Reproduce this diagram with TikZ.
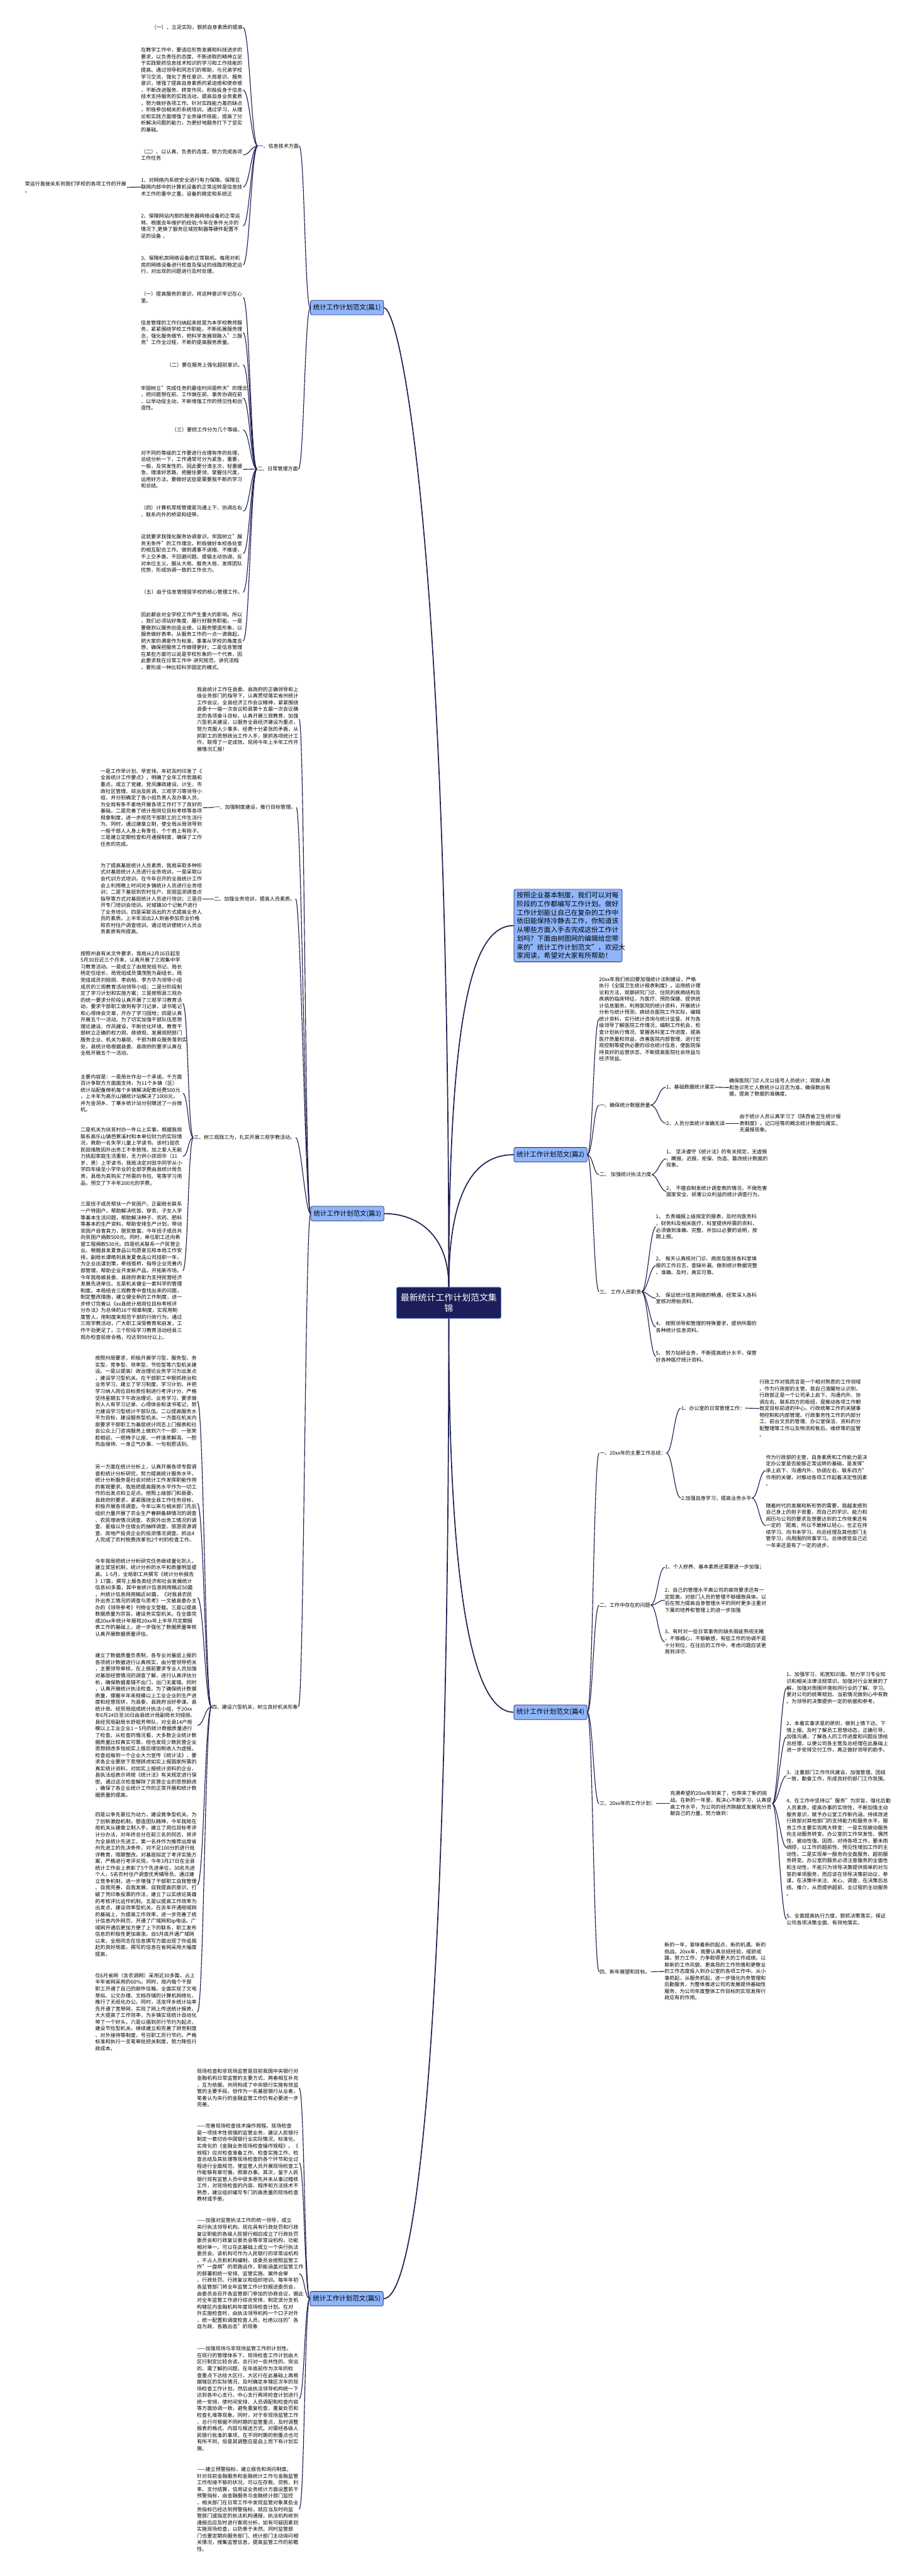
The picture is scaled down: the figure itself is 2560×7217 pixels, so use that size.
\documentclass[tikz,border=0pt]{standalone}
\usepackage{fontspec}
\setmainfont{Noto Sans CJK SC}
\definecolor{linecol}{RGB}{30,32,82}
\definecolor{topicfill}{RGB}{143,181,250}
\definecolor{rootfill}{RGB}{28,30,92}
\definecolor{rootedge}{RGB}{96,126,214}
\tikzset{
  root/.style={draw=rootedge, fill=rootfill, line width=1.5pt, rounded corners=4pt, text=white, align=center, text width=286pt, minimum height=87pt, font=\fontsize{24.5}{31}\selectfont},
  topic/.style={draw=linecol, fill=topicfill, line width=1.2pt, rounded corners=5pt, minimum width=205pt, minimum height=41pt, inner sep=3pt, font=\fontsize{18.5}{22}\selectfont},
  introbox/.style={draw=linecol, fill=topicfill, line width=1.2pt, rounded corners=5pt, text width=287pt, inner sep=8pt, align=left, font=\fontsize{19}{24.2}\selectfont},
  lbl/.style={inner sep=1pt, font=\fontsize{14.2}{18.6}\selectfont},
  txt/.style={inner sep=0pt, text width=286pt, align=left, font=\fontsize{14.2}{18.6}\selectfont},
  trunk/.style={draw=linecol, line width=3pt},
  twig/.style={draw=linecol, line width=2pt}
}
\begin{document}
\begin{tikzpicture}[x=1pt, y=-1pt]
\fill[white] (0,0) rectangle (2560,7217);
\useasboundingbox (0,0) rectangle (2560,7217);

% centre and main topics
\node[root] (R) at (1257,3650) {最新统计工作计划范文集\\锦};
\node[topic] (P1) at (972,862) {统计工作计划范文(篇1)};
\node[topic] (P2) at (1542,3235) {统计工作计划范文(篇2)};
\node[topic] (P3) at (973,3400) {统计工作计划范文(篇3)};
\node[topic] (P4) at (1542,4797) {统计工作计划范文(篇4)};
\node[topic] (P5) at (971,6440) {统计工作计划范文(篇5)};
\node[introbox, anchor=west] (IN) at (1439,2593) {按照企业基本制度，我们可以对每\\阶段的工作都编写工作计划。做好\\工作计划能让自己在复杂的工作中\\依旧能保持冷静去工作，你知道该\\从哪些方面入手去完成这份工作计\\划吗？下面由树图网的编辑给您带\\来的"统计工作计划范文"，欢迎大\\家阅读，希望对大家有所帮助！};

\draw[trunk] (R.north) .. controls (1257,1500) and (1120,862) .. (P1.east);
\draw[trunk] (R.north) .. controls (1257,3450) and (1160,3400) .. (P3.east);
\draw[trunk] (R.north) .. controls (1257,3300) and (1350,3235) .. (P2.west);
\draw[trunk] (R.north) .. controls (1257,2800) and (1330,2593) .. (IN.west);
\draw[trunk] (R.south) .. controls (1257,4500) and (1330,4797) .. (P4.west);
\draw[trunk] (R.south) .. controls (1257,5500) and (1180,6440) .. (P5.east);

% 篇1
\node[lbl, anchor=east] (P1a) at (838,409) {一、信息技术方面};
\node[lbl, anchor=east] (P1b) at (836,1314) {二、日常管理方面};
\node[lbl, anchor=east] (P1a1) at (681,77) {（一）、立足实际，狠抓自身素质的提高};
\node[txt, anchor=east] (P1a2) at (681,252) {在教学工作中，要适应形势发展和科技进步的\\要求，以负责任的态度、不断进取的精神立足\\于实践狠抓信息技术知识的学习和工作技能的\\提高。通过领导和同志们的帮助，与兄弟学校\\学习交流，强化了责任意识、大局意识、服务\\意识，增强了提高自身素质的紧迫感和使命感\\，不断改进服务、转变作风，积极投身于信息\\技术支持服务的实践活动，提高自身业务素质\\，努力做好各项工作。针对实践能力差的缺点\\，积极参加相关的系统培训。通过学习，从理\\论和实践方面增强了业务操作技能，提高了分\\析解决问题的能力，为更好地服务打下了坚实\\的基础。};
\node[txt, anchor=east] (P1a3) at (681,434) {（二）、以认真、负责的态度，努力完成各项\\工作任务};
\node[txt, anchor=east] (P1a4) at (681,524) {1、对网络内系统安全进行有力保障。保障互\\联网内部中的计算机设备的正常运转是信息技\\术工作的重中之重。设备的稳定和系统正};
\node[txt, anchor=east] (P1a4x) at (356,525) {常运行直接关系到我们学校的各项工作的开展\\。};
\node[txt, anchor=east] (P1a5) at (681,633) {2、保障网站内部的服务器网络设备的正常运\\转。根据去年维护的经验;今年在条件允许的\\情况下,更换了服务区域控制器等硬件配置不\\足的设备 。};
\node[txt, anchor=east] (P1a6) at (681,742) {3、保障机房网络设备的正常联机。每周对机\\房的网络设备进行检查及保证的线路的稳定运\\行，对出现的问题进行及时处理。};
\node[txt, anchor=east] (P1b1) at (681,833) {（一）提高服务的意识，将这种意识牢记在心\\里。};
\node[txt, anchor=east] (P1b2) at (681,932) {信息管理的工作归纳起来就是为本学校教师服\\务，紧紧围绕学校工作职能，不断拓展服务理\\念，强化服务细节，把科学发展观融入"三服\\务"工作全过程，不断的提高服务质量。};
\node[lbl, anchor=east] (P1b3) at (681,1022) {（二）要在服务上强化超前意识。};
\node[txt, anchor=east] (P1b4) at (681,1115) {牢固树立"完成任务的最佳时间是昨天"的理念\\，把问题想在前、工作做在前、事务协调在前\\，以早动促主动，不断增强工作的预见性和创\\造性。};
\node[lbl, anchor=east] (P1b5) at (681,1205) {（三）要把工作分为几个等级。};
\node[txt, anchor=east] (P1b6) at (681,1315) {对不同的等级的工作要进行合理有序的处理，\\总结分析一下，工作通常可分为紧急，重要，\\一般，及突发性的，因此要分清主次，轻重缓\\急，理清好思路，把握住要领，掌握住尺度，\\运用好方法，要做好这些是需要我不断的学习\\和总结。};
\node[txt, anchor=east] (P1b7) at (681,1432) {（四）计算机常规管理是沟通上下、协调左右\\、联系内外的桥梁和纽带。};
\node[txt, anchor=east] (P1b8) at (681,1551) {这就要求我强化服务协调意识。牢固树立"服\\务无条件"的工作理念，积极做好本校各处室\\的相互配合工作。做到遇事不退缩、不推诿，\\不上交矛盾，不回避问题。提倡主动协调，反\\对本位主义。服从大局、服务大局，发挥团队\\优势，形成协调一致的工作合力。};
\node[lbl, anchor=east] (P1b9) at (681,1659) {（五）由于信息管理是学校的核心管理工作。};
\node[txt, anchor=east] (P1b10) at (681,1796) {因此都会对全学校工作产生重大的影响。所以\\，我们必须站好角度、履行好服务职能。一是\\要做到以服务创造业绩，以服务塑造形象，以\\服务做好表率。从服务工作的一点一滴做起，\\把大家的满意作为标准，事事从学校的角度去\\想，确保把服务工作做得更好；二是信息管理\\在某些方面可以说是学校形象的一个代表，因\\此要求我在日常工作中 讲究规范，讲究流程\\，要形成一种比较科学固定的模式。};

\draw[twig] (P1.west) .. controls +(-15,0) and +(15,0) .. (P1a.east);
\draw[twig] (P1.west) .. controls +(-15,0) and +(15,0) .. (P1b.east);
\draw[twig] (P1a.west) .. controls +(-18,0) and +(18,0) .. (P1a1.east);
\draw[twig] (P1a.west) .. controls +(-18,0) and +(18,0) .. (P1a2.east);
\draw[twig] (P1a.west) .. controls +(-18,0) and +(18,0) .. (P1a3.east);
\draw[twig] (P1a.west) .. controls +(-18,0) and +(18,0) .. (P1a4.east);
\draw[twig] (P1a.west) .. controls +(-18,0) and +(18,0) .. (P1a5.east);
\draw[twig] (P1a.west) .. controls +(-18,0) and +(18,0) .. (P1a6.east);
\draw[twig] (P1a4.west) -- (P1a4x.east);
\draw[twig] (P1b.west) .. controls +(-18,0) and +(18,0) .. (P1b1.east);
\draw[twig] (P1b.west) .. controls +(-18,0) and +(18,0) .. (P1b2.east);
\draw[twig] (P1b.west) .. controls +(-18,0) and +(18,0) .. (P1b3.east);
\draw[twig] (P1b.west) .. controls +(-18,0) and +(18,0) .. (P1b4.east);
\draw[twig] (P1b.west) .. controls +(-18,0) and +(18,0) .. (P1b5.east);
\draw[twig] (P1b.west) .. controls +(-18,0) and +(18,0) .. (P1b6.east);
\draw[twig] (P1b.west) .. controls +(-18,0) and +(18,0) .. (P1b7.east);
\draw[twig] (P1b.west) .. controls +(-18,0) and +(18,0) .. (P1b8.east);
\draw[twig] (P1b.west) .. controls +(-18,0) and +(18,0) .. (P1b9.east);
\draw[twig] (P1b.west) .. controls +(-18,0) and +(18,0) .. (P1b10.east);

% 篇2
\node[txt, anchor=west] (P2a) at (1678,2855) {20xx年我们依旧要加强统计法制建设，严格\\执行《全国卫生统计报表制度》。运用统计理\\论和方法，观察研究门诊、住院的疾病结构及\\疾病的临床特征，为医疗、预防保健、提供统\\计信息服务。利用医院的统计资料，开展统计\\分析与统计预测，病结合医院工作实际，编辑\\统计资料，实行统计咨询与统计监督。并为各\\级领导了解医院工作情况，编制工作机会，检\\查计划执行情况、掌握各科室工作进度，提高\\医疗质量和效益，改善医院内部管理，进行宏\\观控制等提供必要的综合统计信息，使医院保\\持良好的运营状态，不断提高医院社会效益与\\经济效益。};
\node[lbl, anchor=west] (P2b) at (1678,3096) {一、确保统计数据质量};
\node[lbl, anchor=west] (P2b1) at (1865,3046) {1、基础数据统计属实};
\node[txt, anchor=west] (P2b1x) at (2042,3047) {确保医院门诊人次以挂号人员统计；观察人数\\和急诊死亡人数统计以日志为准，确保数出有\\据，提高了数据的准确度。};
\node[lbl, anchor=west] (P2b2) at (1865,3147) {2、人员分类统计准确无误};
\node[txt, anchor=west] (P2b2x) at (2071,3147) {由于统计人员认真学习了《陕西省卫生统计报\\表制度》，记口径等的概念统计数据均属实，\\无漏报现象。};
\node[lbl, anchor=west] (P2c) at (1678,3291) {二、 加强统计执法力度};
\node[txt, anchor=west] (P2c1) at (1866,3246) {1、 坚决遵守《统计法》的有关规定，无虚报\\、瞒报、迟报、拒保、伪造、篡改统计数据的\\现象。};
\node[txt, anchor=west] (P2c2) at (1866,3338) {2、 不擅自制发统计调查表的情况，不做危害\\国家安全、损害公众利益的统计调查行为。};
\node[lbl, anchor=west] (P2d) at (1678,3619) {三、 工作人员职责};
\node[txt, anchor=west] (P2d1) at (1837,3437) {1、 负责编报上级规定的报表，及时向医务科\\，财务科及相关医疗、科室提供所需的资料，\\必须做到准确、完整、并加以必要的说明，按\\期上报。};
\node[txt, anchor=west] (P2d2) at (1837,3546) {2、 每天认真核对门诊、病房及医技各科室填\\报的工作日志，查缺补漏，做到统计数据完整\\、准确、及时，真实可靠。};
\node[txt, anchor=west] (P2d3) at (1837,3637) {3、 保证统计信息网络的畅通，经常深入各科\\室核对原始资料。};
\node[txt, anchor=west] (P2d4) at (1837,3718) {4、 按照领导和管理的特殊要求，提供所需的\\各种统计信息资料。};
\node[txt, anchor=west] (P2d5) at (1837,3800) {5、 努力钻研业务，不断提高统计水平，保管\\好各种医疗统计资料。};

\draw[twig] (P2.east) .. controls +(15,0) and +(-15,0) .. (P2a.west);
\draw[twig] (P2.east) .. controls +(15,0) and +(-15,0) .. (P2b.west);
\draw[twig] (P2.east) .. controls +(15,0) and +(-15,0) .. (P2c.west);
\draw[twig] (P2.east) .. controls +(15,0) and +(-15,0) .. (P2d.west);
\draw[twig] (P2b.east) .. controls +(20,0) and +(-20,0) .. (P2b1.west);
\draw[twig] (P2b.east) .. controls +(20,0) and +(-20,0) .. (P2b2.west);
\draw[twig] (P2b1.east) -- (P2b1x.west);
\draw[twig] (P2b2.east) -- (P2b2x.west);
\draw[twig] (P2c.east) .. controls +(15,0) and +(-15,0) .. (P2c1.west);
\draw[twig] (P2c.east) .. controls +(15,0) and +(-15,0) .. (P2c2.west);
\draw[twig] (P2d.east) .. controls +(16,0) and +(-16,0) .. (P2d1.west);
\draw[twig] (P2d.east) .. controls +(16,0) and +(-16,0) .. (P2d2.west);
\draw[twig] (P2d.east) .. controls +(16,0) and +(-16,0) .. (P2d3.west);
\draw[twig] (P2d.east) .. controls +(16,0) and +(-16,0) .. (P2d4.west);
\draw[twig] (P2d.east) .. controls +(16,0) and +(-16,0) .. (P2d5.west);

% 篇3
\node[txt, anchor=east] (P3a) at (838,2015) {我县统计工作在县委、县政府的正确领导和上\\级业务部门的指导下，认真贯彻落实省州统计\\工作会议、全县经济工作会议精神，紧紧围绕\\县委十一届一次会议和县第十五届一次会议确\\定的各项奋斗目标，认真开展三观教育，加强\\六型机关建设，以服务全县经济建设为重点，\\努力克服人少事多、经费十分紧张的矛盾，从\\抓职工的思想政治工作入手，狠抓各项统计工\\作，取得了一定成效。现将今年上半年工作开\\展情况汇报！};
\node[lbl, anchor=east] (P3b) at (830,2262) {一、加强制度建设，推行目标管理。};
\node[txt, anchor=east] (P3bx) at (568,2263) {一是工作早计划、早安排。年初及时印发了《\\全县统计工作要点》，明确了全年工作思路和\\重点。成立了党建、党风廉政建设、计生、市\\政社区管理、综治及民调、三观学习等领导小\\组，并分别确定了各小组负责人及办事人员，\\为全局有条不紊地开展各项工作打下了良好的\\基础。二是完善了统计局岗位目标考核等各项\\规章制度，进一步规范干部职工的工作生活行\\为。同时，通过建章立制，使全局从局领导到\\一般干部人人身上有责任、个个肩上有担子。\\三是建立定期检查和月通报制度，确保了工作\\任务的完成。};
\node[lbl, anchor=east] (P3c) at (828,2518) {二、加强业务培训，提高人员素质。};
\node[txt, anchor=east] (P3cx) at (568,2518) {为了提高基层统计人员素质，我局采取多种形\\式对基层统计人员进行业务培训。一是采取以\\会代训方式培训。在今年召开的全县统计工作\\会上利用晚上时间对乡镇统计人员进行业务培\\训；二是下基层到农村住户、贫困监测调查点\\指导等方式对基层统计人员进行培训；三是召\\开专门培训会培训。对城镇30个记帐户进行\\了业务培训。四是采取派出的方式提高业务人\\员的素质。上半年派出2人到省参加农业价格\\和农村住户调查培训。通过培训使统计人员业\\务素质有所提高。};
\node[lbl, anchor=east] (P3d) at (828,3187) {三、树三观践三为，扎实开展三观学教活动。};
\node[txt, anchor=east] (P3d1) at (512,2811) {按照州县有关文件要求，我局从2月16日起至\\5月30日近三个月来，认真开展了三观集中学\\习教育活动。一是成立了由局党组书记、局长\\杨定任组长，局党组成员蒲茂胜为副组长，局\\党组成员刘娅丽、李启柏、李方华为领导小组\\成员的三观教育活动领导小组；二是分阶段制\\定了学习计划和实施方案；三是按照县三观办\\的统一要求分阶段认真开展了三观学习教育活\\动，要求干部职工做到有学习记录、读书笔记\\和心得体会文章，开办了学习园地；四是认真\\开展五个一活动。为了切实加强干部队伍思想\\理论建设、作风建设，不断优化环境，教育干\\部树立正确的权力观、政绩观、发展观把部门\\服务企业、机关为基层、干部为群众服务落到实\\处，县统计局根据县委、县政府的要求认真在\\全局开展五个一活动。};
\node[txt, anchor=east] (P3d2) at (512,3063) {主要内容是：一是局长作出一个承诺。千方面\\百计争取方方面面支持，为11个乡镇（区）\\统计站配备微机每个乡镇解决配套经费500元\\，上半年为高乐山镇统计站解决了1000元，\\并为金洞乡、丁寨乡统计站分别赠送了一台微\\机。};
\node[txt, anchor=east] (P3d3) at (512,3240) {二是机关为扶贫村办一件以上实事。根据我局\\联系高乐山镇芭蕉溪村和本单位财力的实际情\\况，救助一名失学儿童上学读书。该村1组农\\民田维胜因外出务工不幸致残，加之爱人无能\\力挑起家庭生活重担，无力供小孩田华（11\\岁，男）上学读书，我局决定对田华同学从小\\学四年级至小学毕业的全部学费由县统计局负\\责，县局为其购买了所需的书包、笔等学习用\\品，预交了下半年200元的学费。};
\node[txt, anchor=east] (P3d4) at (512,3560) {三是班子成员帮扶一户贫困户。正副局长联系\\一户特困户，帮助解决吃饭、穿衣、子女入学\\等基本生活问题，帮助解决种子、农药、肥料\\等基本的生产资料，帮助安排生产计划，带动\\贫困户自食其力，脱贫致富。今年班子成员共\\向贫困户捐款500元。同时，单位职工还向希\\望工程捐款530元。四是机关联系一户民营企\\业。根据县发夏食品公司愿意见和本局工作安\\排，副局长谭皓到县发夏食品公司挂职一年，\\为企业出谋划策，牵线搭桥，指导企业完善内\\部管理，帮助企业开发新产品，开拓新市场。\\今年我局被县委、县政府表彰为支持民营经济\\发展先进单位。五是机关健全一套科学的管理\\制度。本局结合三观教育中查找出来的问题，\\制定整改措施，建立健全新的工作制度，进一\\步修订完善以《xx县统计局岗位目标考核评\\分办法》为总体的16个规章制度，实现用制\\度管人，用制度来规范干部的行政行为。通过\\三观学教活动，广大职工深受教育和启发，工\\作干劲更足了。三个阶段学习教育活动经县三\\观办检查验收合格，均达到98分以上。};
\node[lbl, anchor=east] (P3e) at (836,4782) {四、建设六型机关，树立良好机关形象};
\node[txt, anchor=east] (P3e1) at (553,3926) {按照州局要求，积极开展学习型、服务型、务\\实型、竞争型、效率型、节俭型等六型机关建\\设。一是以提高）政治理论业务学习为出发点\\，建设学习型机关。在干部职工中狠抓政治和\\业务学习，建立了学习制度、学习计划，并把\\学习纳入岗位目标责任制进行考评计分，严格\\坚持星期五下午政治理论、业务学习，要求做\\到人人有学习记录、心得体会和读书笔记，努\\力建设学习型统计干部队伍。二以提高服务水\\平为目标，建设服务型机关。一方面在机关内\\部要求干部职工为基层统计同志上门报表和社\\会公众上门咨询服务上做到六个一即：一张笑\\脸相迎、一把椅子让座、一杯清茶解渴、一腔\\热血接待、一身正气办事、一句祝愿话别。};
\node[txt, anchor=east] (P3e2) at (553,4212) {另一方面在统计分析上，认真开展各项专题调\\查和统计分析研究，努力提高统计服务水平。\\统计分析服务是社会对统计工作发挥职能作用\\的客观要求。我局把提高服务水平作为一切工\\作的出发点和立足点。按照上级部门和县委、\\县政府的要求，紧紧围绕全县工作任务目标，\\积极开展各项调查。今年以来与相关部门先后\\组织力量开展了农业生产春耕备耕情况的调查\\、农民增收情况调查、农民外出务工情况的调\\查、星级以外住宿业的抽样调查、旅游资源调\\查、房地产投资企业的投资情况调查。抓出4\\人完成了农村税费改革包2个村的检查工作。};
\node[txt, anchor=east] (P3e3) at (553,4476) {今年我局把统计分析研究任务继续量化到人，\\建立奖惩机制，统计分析的水平和质量明显提\\高。1-5月，全局职工共撰写《统计分析报告\\》17篇，撰写上报各类经济和社会发展统计\\信息80多篇，其中省统计信息网用稿近50篇\\，州统计信息网用稿近80篇。《对我县农民\\外出务工情况的调查与思考》一文被县委办主\\办的《领导参考》刊物全文登载。三是以提高\\数据质量为宗旨，建设务实型机关。在全面完\\成20xx年统计年报和20xx年上半年月定期报\\表工作的基础上，进一步强化了数据质量审核\\认真开展数据质量评估。};
\node[txt, anchor=east] (P3e4) at (553,4834) {建立了数据质量负责制，各专业对基层上报的\\各项统计数据进行认真核实，由分管领导把关\\，主要领导审核，在上报前要求专业人员加强\\对基层经营情况的调查了解，进行认真评估分\\析，确保数据差错不出门，出门无差错。同时\\，认真开展统计执法检查。为了确保统计数据\\质量，撑握半年来规模以上工业企业的生产进\\度和经营现状，为县委、县政府当好参谋。县\\统计局、经贸局组成统计执法小组，于20xx\\年6月24日至30日由县统计局副局长刘娅丽、\\县经贸局副局长舒祖芳带队，对全县14户规\\模以上工业企业1－5月的统计数据质量进行\\了检查。从检查的情况看，大多数企业统计数\\据质量比较真实可靠，但也发现少数民营企业\\思想顾虑多怕如实上报后增加税收人为虚报。\\检查组每到一个企业大力宣传《统计法》，要\\求各企业要放下思想顾虑如实上报国家所需的\\真实统计资料，对如实上报统计资料的企业，\\县执法组表示将按《统计法》有关规定进行保\\密。通过这次检查解除了民营企业的思想顾虑\\，确保了各企业统计工作的正常开展和统计数\\据质量的提高。};
\node[txt, anchor=east] (P3e5) at (553,5280) {四是以争先晋位为动力，建设竟争型机关。为\\了创新激励机制，塑造团队精神，今年我局在\\局机关从建章立制入手，建立了岗位目标考评\\计分办法，对年终总分在前三名的同志，将评\\为全县统计先进工，第一名并作为推荐出席省\\州先进工的先决条件，对不足100分的进行批\\评教育，限期整改。对基层拟定了考评实施方\\案，严格进行考评兑现。今年3月27日在全县\\统计工作会上表彰了5个先进单位，30名先进\\个人，5名农村住户调查优秀辅导员。通过建\\立竞争机制，进一步增强了干部职工自我管理\\、自我完善、自我发展、自我提高的意识，打\\破了凭印象投票的作法，建立了以实绩论英雄\\的考核评比运作机制。五是以提高工作效率为\\出发点，建设效率型机关。在去年开通局域网\\的基础上，为提高工作效率，进一步完善了统\\计信息内外网页，开通了广域网和ip电话。广\\域网开通后更加方便了上下的联系，职工发布\\信息的积极性更加高涨。自5月底开通广域网\\以来，全局同志在信息撰写方面出现了你追我\\赶的良好局面，撰写的信息在省网采用大幅度\\提高，};
\node[txt, anchor=east] (P3e6) at (553,5637) {仅6月省网（含农调网）采用近30多篇，占上\\半年省网采用的60\%。同时，局内每个干部\\职工开通了自己的邮件信箱，全面实现了文电\\草拟、公文办理、文档存储的计算机网络化，\\推行了无纸化办公。同时，活龙坪乡统计站率\\先开通了宽带网，实现了网上传送统计报表，\\大大提高了工作效率，为乡镇实现统计自动化\\带了一个好头。六是以倡到厉行节约为起点，\\建设节俭型机关。继续建立和完善了财务制度\\、对外接待等制度，号召职工厉行节约，严格\\标准和执行一支笔审批把关制度，努力降低行\\政成本。};

\draw[twig] (P3.west) .. controls +(-15,0) and +(15,0) .. (P3a.east);
\draw[twig] (P3.west) .. controls +(-15,0) and +(15,0) .. (P3b.east);
\draw[twig] (P3.west) .. controls +(-15,0) and +(15,0) .. (P3c.east);
\draw[twig] (P3.west) .. controls +(-15,0) and +(15,0) .. (P3d.east);
\draw[twig] (P3.west) .. controls +(-15,0) and +(15,0) .. (P3e.east);
\draw[twig] (P3b.west) -- (P3bx.east);
\draw[twig] (P3c.west) -- (P3cx.east);
\draw[twig] (P3d.west) .. controls +(-15,0) and +(15,0) .. (P3d1.east);
\draw[twig] (P3d.west) .. controls +(-15,0) and +(15,0) .. (P3d2.east);
\draw[twig] (P3d.west) .. controls +(-15,0) and +(15,0) .. (P3d3.east);
\draw[twig] (P3d.west) .. controls +(-15,0) and +(15,0) .. (P3d4.east);
\draw[twig] (P3e.west) .. controls +(-18,0) and +(18,0) .. (P3e1.east);
\draw[twig] (P3e.west) .. controls +(-18,0) and +(18,0) .. (P3e2.east);
\draw[twig] (P3e.west) .. controls +(-18,0) and +(18,0) .. (P3e3.east);
\draw[twig] (P3e.west) .. controls +(-18,0) and +(18,0) .. (P3e4.east);
\draw[twig] (P3e.west) .. controls +(-18,0) and +(18,0) .. (P3e5.east);
\draw[twig] (P3e.west) .. controls +(-18,0) and +(18,0) .. (P3e6.east);

% 篇4
\node[lbl, anchor=west] (P4a) at (1678,4071) {一、20xx年的主要工作总结：};
\node[lbl, anchor=west] (P4a1) at (1907,3945) {1、办公室的日常管理工作：};
\node[txt, anchor=west] (P4a1x) at (2127,3946) {行政工作对我而言是一个相对熟悉的工作领域\\。作为行政部的主管，我自己清醒地认识到，\\行政部正是一个公司承上启下、沟通内外、协\\调左右、联系四方的枢纽，是推动各项工作朝\\既定目标前进的中心。行政统筹工作的关键事\\物控制和内部管理。行政事务性工作的内部分\\工、前台文员的管理、办公室保洁、资料的分\\配整理等工作以及物流和售后、维修等的监管\\。};
\node[lbl, anchor=west] (P4a2) at (1907,4197) {2.加强自身学习，提高业务水平};
\node[txt, anchor=west] (P4a2x) at (2145,4120) {作为行政部的主管，自身素质和工作能力是决\\定办公室是否能够正常运转的基础，是发挥"\\承上启下、沟通内外、协调左右、联系四方"\\作用的关键，对推动各项工作起着决定性因素\\。};
\node[txt, anchor=west] (P4a2y) at (2145,4274) {随着时代的发展和新形势的需要，我越发感到\\自己身上的担子很重，而自己的学识、能力和\\阅历与公司的要求及想要达到的工作效果还有\\一定的`距离，所以不敢掉以轻心，也正在持\\续学习。向书本学习、向总经理及其他部门主\\管学习，向周围的同事学习。总体感觉自己近\\一年来还是有了一定的进步。};
\node[lbl, anchor=west] (P4b) at (1678,4497) {二、工作中存在的问题};
\node[lbl, anchor=west] (P4b1) at (1862,4391) {1、个人修养、基本素质还需要进一步加强；};
\node[txt, anchor=west] (P4b2) at (1862,4483) {2、自己的管理水平离公司的高效要求还有一\\定距离。对部门人员的管理不够细致具体。以\\后在努力提高自身管理水平的同时更多注重对\\下属的培养和管理上的进一步加强};
\node[txt, anchor=west] (P4b3) at (1862,4600) {3、有时对一些日常事务的缺失瑕疵熟视无睹\\，不够细心，不够敏感，有些工作的协调不是\\十分到位，在往后的工作中，考虑问题应该更\\周到详尽.};
\node[lbl, anchor=west] (P4c) at (1678,5053) {三、20xx年的工作计划：};
\node[txt, anchor=west] (P4cx) at (1877,5053) {充满希望的20xx年到来了，也带来了新的挑\\战。在新的一年里，我决心不断学习，认真提\\高工作水平，为公司的经济跨越式发展充分贡\\献自己的力量，努力做到：};
\node[txt, anchor=west] (P4c1) at (2203,4729) {1、加强学习，拓宽知识面。努力学习专业知\\识和相关法律法规常识。加强对行业发展的了\\解，加强对周围环境和同行业的了解、学习。\\要对公司的统筹规划、当前情况做到心中有数\\。为领导的决策提供一定的依据和参考。};
\node[txt, anchor=west] (P4c2) at (2203,4866) {2、本着实事求是的原则，做到上情下达、下\\情上报。及时了解员工思想动态，正确引导，\\加强沟通，了解各人的工作进度和问题反馈给\\总经理，以便公司各主管及总经理在此基础上\\进一步安排交付工作，真正做好领导的助手。};
\node[txt, anchor=west] (P4c3) at (2203,4975) {3、注重部门工作作风建设，加强管理，团结\\一致，勤奋工作，形成良好的部门工作氛围。};
\node[txt, anchor=west] (P4c4) at (2203,5176) {4、在工作中坚持以"服务"为宗旨，强化后勤\\人员素质，提高办事的实效性，不断加强主动\\服务意识，赋予办公室工作新内涵，持续改进\\行政部对其他部门的支持能力和服务水平。服\\务工作主要实现两大转变：一是实现被动服务\\向主动服务转变。办公室的工作突发性、偶然\\性、被动性强。因而，对待各项工作，要未雨\\绸缪，以工作的超前性、预见性增加工作的主\\动性。二是实现单一服务向全面服务、超前服\\务转变。办公室的服务必须注意服务的全面性\\和主动性，不能只为领导决策提供简单的对与\\答的单项服务，而应该在领导决策前动议、参\\谋，在决策中关注、关心、调查，在决策后总\\结、推介，从而提供超前、全过程的主动服务\\。};
\node[txt, anchor=west] (P4c5) at (2203,5377) {5、全面提高执行力度，狠抓决策落实，保证\\公司各项决策全面、有效地落实。};
\node[lbl, anchor=west] (P4d) at (1678,5524) {四、新年展望和目标。};
\node[txt, anchor=west] (P4dx) at (1861,5523) {新的一年，意味着新的起点、新的机遇、新的\\挑战。20xx年，我要认真总结经验，戒骄戒\\躁，努力工作，力争取得更大的工作成绩。以\\崭新的工作风貌、更高昂的工作热情和更敬业\\的工作态度投入到办公室的各项工作中。从小\\事抓起，从服务抓起，进一步强化内务管理和\\后勤服务，为整体推进公司的发展提供基础性\\服务，为公司年度整体工作目标的实现发挥行\\政应有的作用。};

\draw[twig] (P4.east) .. controls +(15,0) and +(-15,0) .. (P4a.west);
\draw[twig] (P4.east) .. controls +(15,0) and +(-15,0) .. (P4b.west);
\draw[twig] (P4.east) .. controls +(15,0) and +(-15,0) .. (P4c.west);
\draw[twig] (P4.east) .. controls +(15,0) and +(-15,0) .. (P4d.west);
\draw[twig] (P4a.east) .. controls +(18,0) and +(-18,0) .. (P4a1.west);
\draw[twig] (P4a.east) .. controls +(18,0) and +(-18,0) .. (P4a2.west);
\draw[twig] (P4a1.east) -- (P4a1x.west);
\draw[twig] (P4a2.east) .. controls +(18,0) and +(-18,0) .. (P4a2x.west);
\draw[twig] (P4a2.east) .. controls +(18,0) and +(-18,0) .. (P4a2y.west);
\draw[twig] (P4b.east) .. controls +(18,0) and +(-18,0) .. (P4b1.west);
\draw[twig] (P4b.east) .. controls +(18,0) and +(-18,0) .. (P4b2.west);
\draw[twig] (P4b.east) .. controls +(18,0) and +(-18,0) .. (P4b3.west);
\draw[twig] (P4c.east) -- (P4cx.west);
\draw[twig] (P4cx.east) .. controls +(15,0) and +(-15,0) .. (P4c1.west);
\draw[twig] (P4cx.east) .. controls +(15,0) and +(-15,0) .. (P4c2.west);
\draw[twig] (P4cx.east) .. controls +(15,0) and +(-15,0) .. (P4c3.west);
\draw[twig] (P4cx.east) .. controls +(15,0) and +(-15,0) .. (P4c4.west);
\draw[twig] (P4cx.east) .. controls +(15,0) and +(-15,0) .. (P4c5.west);
\draw[twig] (P4d.east) -- (P4dx.west);

% 篇5
\node[txt, anchor=east] (P5a) at (838,5850) {现场检查和非现场监管是目前我国中央银行对\\金融机构日常监管的主要方式，两者相互补充\\，互为依据，共同构成了中央银行实施有效监\\管的主要手段。但作为一名基层银行从业者，\\笔者认为央行的金融监管工作仍有必要进一步\\完善。};
\node[txt, anchor=east] (P5b) at (838,6059) {——完善现场检查技术操作规程。现场检查\\是一项技术性很强的监管业务，建议人民银行\\制定一套切合中国银行业实际情况，标准化、\\实用化的《金融业务现场检查操作规程》。《\\规程》应对检查准备工作、检查实施工作、检\\查总结及其处理等现场检查的各个环节和全过\\程进行全面规范，使监管人员开展现场检查工\\作能够有章可循，照章办事。其次，鉴于人民\\银行现有监管人员中很多原先并未从事过稽核\\工作，对现场检查的内容、程序和方法技术不\\熟悉，建议组织编写专门的高质量的现场检查\\教材或手册。};
\node[txt, anchor=east] (P5c) at (838,6370) {——加强对监管执法工作的统一领导，成立\\央行执法领导机构。现在具有行政处罚和行政\\复议职能的各级人民银行相应成立了行政处罚\\委员会和行政复议委员会等非常设机构，功能\\相对单一。可以在此基础上成立一个央行执法\\委员会。该机构可作为人民银行的非常设机构\\，不占人员和机构编制。该委员会按照监管工\\作"一盘棋"的思路运作，职能涵盖对监管工作\\的部署和统一安排、监管实施、案件会审\\、行政处罚、行政复议和组织培训。每年年初\\各监管部门将全年监管工作计划报送委员会，\\由委员会召开各监管部门参加的协商会议，据此\\对全年监管工作进行综合安排，制定该分支机\\构辖区内金融机构年度现场检查计划。在对\\外实施检查时，由执法领导机构一个口子对外\\，统一配置和调度检查人员，杜绝以往的"各\\自为政、各路出击"的现象};
\node[txt, anchor=east] (P5d) at (838,6720) {——加强现场与非现场监管工作的计划性。\\在现行的管理体系下，现场检查工作计划由大\\区行制定比较合适，总行对一些共性的、突出\\的、需了解的问题，在年底前作为次年的检\\查重点下达给大区行，大区行在此基础上再根\\据辖区的实际情况，及时确定本辖区次年的现\\场检查工作计划，然后由执法领导机构统一下\\达到各中心支行。中心支行再将检查计划进行\\统一安排，使时间安排、人员调配和检查内容\\等方面协调一致，避免重复检查、重复处罚和\\检查扎堆等现象。同时，对于非现场监管工作\\，总行可根据不同时期的监管重点，及时调整\\报表的格式、内容与报送方式。对需经各级人\\民银行批准的事项，在不同时期的侧重点也可\\有所不同，但是其调整应是自上而下有计划实\\施。};
\node[txt, anchor=east] (P5e) at (838,7030) {——建立预警指标，建立报告和询问制度。\\针对目前金融服务和金融统计工作与金融监管\\工作衔接不够的状况，可以在存款、贷款、利\\率、支付结算、信用证业务统计方面设置若干\\预警指标，由金融服务与金融统计部门监控\\，相关部门在日常工作中发现监管对象某些业\\务指标已经达到预警指标，就应当及时向监\\管部门或指定的执法机构通报，执法机构收到\\通报后应及时进行客观分析，如有可疑因素则\\实施现场检查，以防患于未然。同时监管部\\门也要定期向服务部门、统计部门主动询问相\\关情况，搜集监管信息，提高监管工作的前瞻\\性。};

\draw[twig] (P5.west) .. controls +(-15,0) and +(15,0) .. (P5a.east);
\draw[twig] (P5.west) .. controls +(-15,0) and +(15,0) .. (P5b.east);
\draw[twig] (P5.west) .. controls +(-15,0) and +(15,0) .. (P5c.east);
\draw[twig] (P5.west) .. controls +(-15,0) and +(15,0) .. (P5d.east);
\draw[twig] (P5.west) .. controls +(-15,0) and +(15,0) .. (P5e.east);
\end{tikzpicture}
\end{document}
